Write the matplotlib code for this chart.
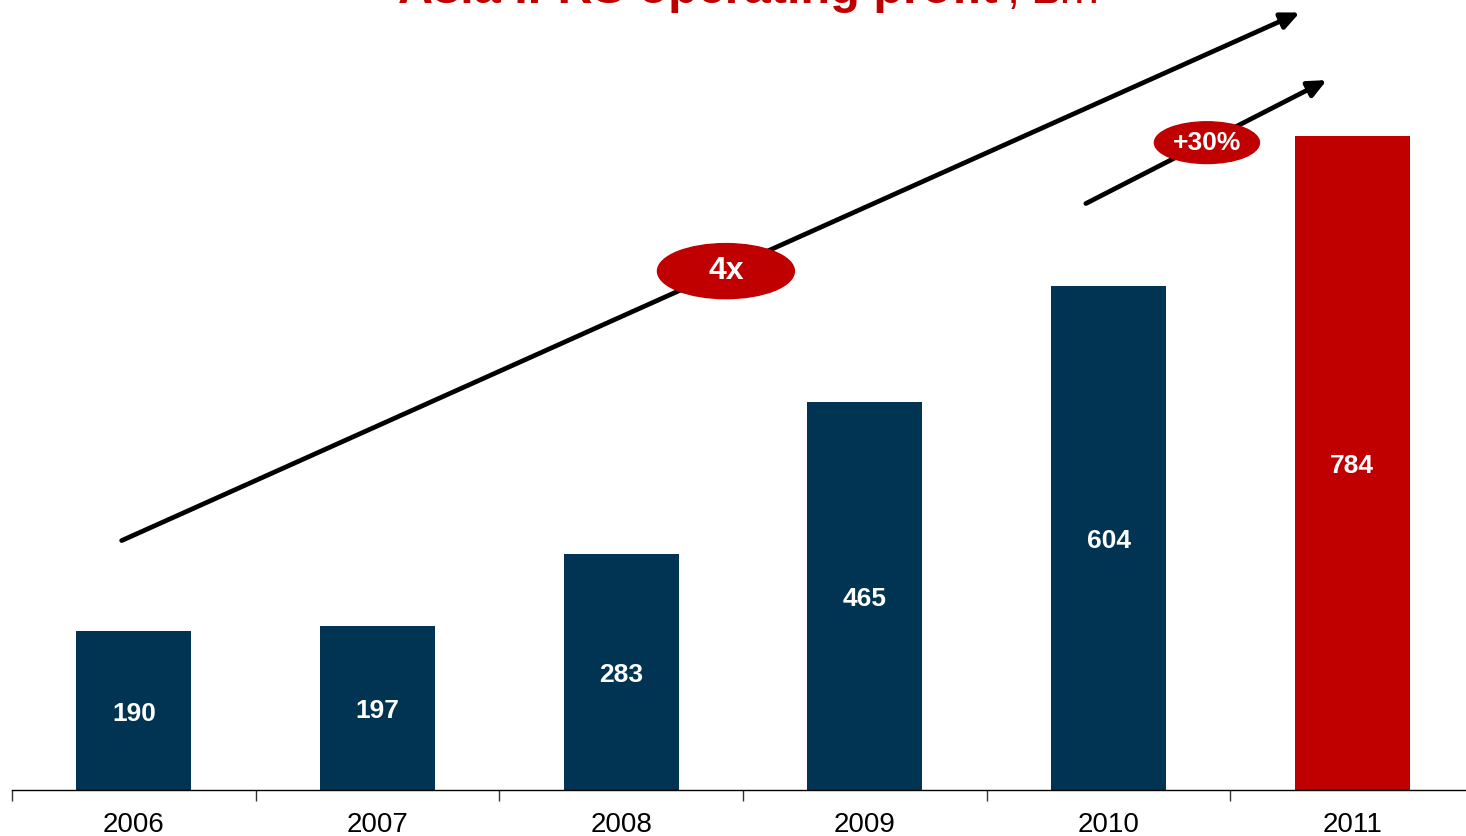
import matplotlib
matplotlib.use("Agg")
import matplotlib.pyplot as plt
from matplotlib.patches import Ellipse

plt.rcParams["font.family"] = ["Liberation Sans", "DejaVu Sans"]

# Asia IFRS operating profit, GBP m
years = ["2006", "2007", "2008", "2009", "2010", "2011"]
profit = [190, 197, 283, 465, 604, 784]

NAVY = "#003452"
RED = "#C00000"
colors = [NAVY] * 5 + [RED]

W, H = 1466, 836
fig = plt.figure(figsize=(W / 100, H / 100), dpi=100)
ax = fig.add_axes([12 / W, 46 / H, 1462 / W, 790 / H])

x = list(range(len(years)))
ax.bar(x, profit, width=0.473, color=colors, zorder=2)
for xi, v in zip(x, profit):
    ax.annotate(str(v), (xi, v / 2), xytext=(0, -2), textcoords="offset points",
                ha="center", va="center", color="white",
                fontsize=19, fontweight="bold", zorder=3)

ax.set_xlim(-0.5, len(years) - 0.5)
ax.set_ylim(0, 947)
ax.set_xticks(x)
ax.set_xticklabels(years, fontsize=20)
ax.set_xticks([i - 0.5 for i in range(len(years) + 1)], minor=True)
ax.tick_params(axis="x", which="major", length=0, pad=16)
ax.tick_params(axis="x", which="minor", length=8, width=1, color="#333333")
ax.set_yticks([])
for side in ("left", "right", "top"):
    ax.spines[side].set_visible(False)
ax.spines["bottom"].set_linewidth(1)

# growth arrows
arrow_kw = dict(arrowstyle="-|>,head_length=1.1,head_width=0.5",
                color="black", lw=3.4, shrinkA=0, shrinkB=0)
ax.annotate("", xy=(4.785, 932), xytext=(-0.05, 299),
            arrowprops=arrow_kw, zorder=4)
ax.annotate("", xy=(4.896, 851), xytext=(3.907, 703),
            arrowprops=arrow_kw, zorder=4)

# growth badges
badges = [(2.43, 622, 0.562, 66, "4x", 23),
          (4.404, 776, 0.431, 50, "+30%", 19)]
for cx, cy, bw, bh, txt, fs in badges:
    ax.add_patch(Ellipse((cx, cy), bw, bh, color=RED, zorder=5, clip_on=False))
    ax.text(cx, cy, txt, ha="center", va="center", color="white",
            fontsize=fs, fontweight="bold", zorder=6)

# title (runs off the top edge)
ty = 1 - 3 / H
fig.text(998 / W, ty, "Asia IFRS operating profit", ha="right", va="baseline",
         color=RED, fontsize=35, fontweight="bold")
fig.text(999 / W, ty + 22 / H, "1", ha="left", va="baseline",
         color=RED, fontsize=14)
fig.text(1007 / W, ty, ", £m", ha="left", va="baseline",
         color=RED, fontsize=34)

fig.savefig("out.png", dpi=100)
